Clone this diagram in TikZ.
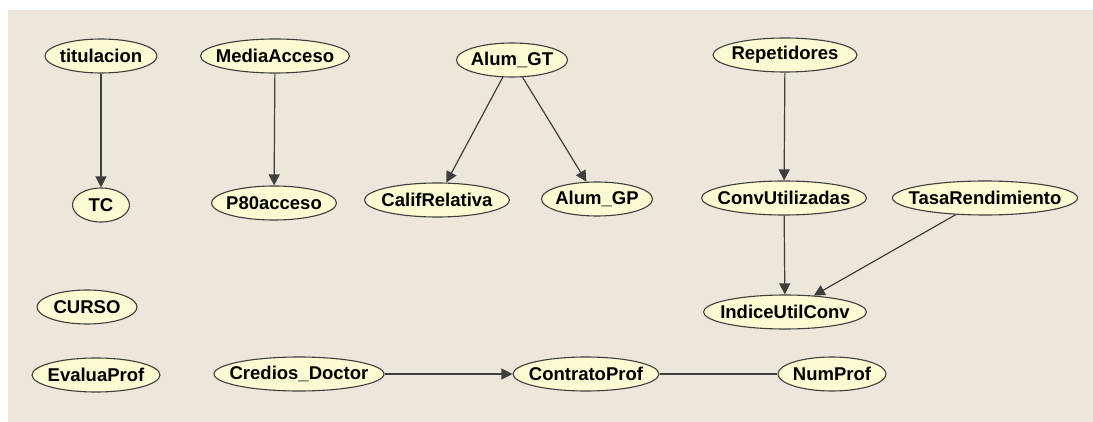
\documentclass[tikz,border=0pt]{standalone}
\usepackage{fontspec}
\setmainfont{Liberation Sans}
\usetikzlibrary{shapes.geometric,arrows.meta}
\definecolor{panel}{HTML}{ECE7DA}
\definecolor{nodefill}{HTML}{FBFAD3}
\definecolor{edge}{HTML}{3E3E3E}
% the ellipse size is fixed by the style; the name is centred without widening it
\newcommand{\vname}[1]{\makebox[0pt][c]{#1}}
\tikzset{
  var/.style={ellipse, draw=edge, line width=1.1pt, fill=nodefill, inner sep=0pt,
    minimum height=34pt, font=\fontsize{18.5}{19}\selectfont\bfseries},
  link/.style={draw=edge, line width=1.2pt},
  dep/.style={link, -{Triangle[length=11pt,width=11pt]}}
}
\begin{document}
\begin{tikzpicture}[x=1pt,y=-1pt]
  % canvas with the white strip at top and left
  \fill[white] (0,0) rectangle (1093,422);
  \fill[panel] (8,10) rectangle (1093,422);
  \useasboundingbox (0,0) rectangle (1093,422);

  % variables
  \node[var, minimum width=112pt] (titulacion) at (101,56) {\vname{titulacion}};
  \node[var, minimum width=57pt]  (tc)         at (101,205) {\vname{TC}};
  \node[var, minimum width=149pt] (media)      at (275,56) {\vname{MediaAcceso}};
  \node[var, minimum width=125pt] (p80)        at (274,203) {\vname{P80acceso}};
  \node[var, minimum width=111pt] (algt)       at (512,60) {\vname{Alum\_GT}};
  \node[var, minimum width=145pt] (calif)      at (437,200) {\vname{CalifRelativa}};
  \node[var, minimum width=111pt] (algp)       at (597,199) {\vname{Alum\_GP}};
  \node[var, minimum width=144pt] (repet)      at (785,55) {\vname{Repetidores}};
  \node[var, minimum width=165pt] (convu)      at (784,198) {\vname{ConvUtilizadas}};
  \node[var, minimum width=185pt] (tasa)       at (985,198) {\vname{TasaRendimiento}};
  \node[var, minimum width=163pt] (indice)     at (785,312) {\vname{IndiceUtilConv}};
  \node[var, minimum width=100pt] (curso)      at (87,307) {\vname{CURSO}};
  \node[var, minimum width=128pt] (evalua)     at (96,375) {\vname{EvaluaProf}};
  \node[var, minimum width=170pt] (credios)    at (299,374) {\vname{Credios\_Doctor}};
  \node[var, minimum width=146pt] (contrato)   at (586,374) {\vname{ContratoProf}};
  \node[var, minimum width=108pt] (numprof)    at (832,374) {\vname{NumProf}};

  % dependencies
  \draw[dep] (titulacion) -- (tc);
  \draw[dep] (media) -- (p80);
  \draw[dep] (algt) -- (calif);
  \draw[dep] (algt) -- (algp);
  \draw[dep] (repet) -- (convu);
  \draw[dep] (convu) -- (indice);
  \draw[dep] (tasa) -- (indice);
  \draw[dep] (credios) -- (contrato);
  \draw[link] (contrato) -- (numprof);
\end{tikzpicture}
\end{document}
